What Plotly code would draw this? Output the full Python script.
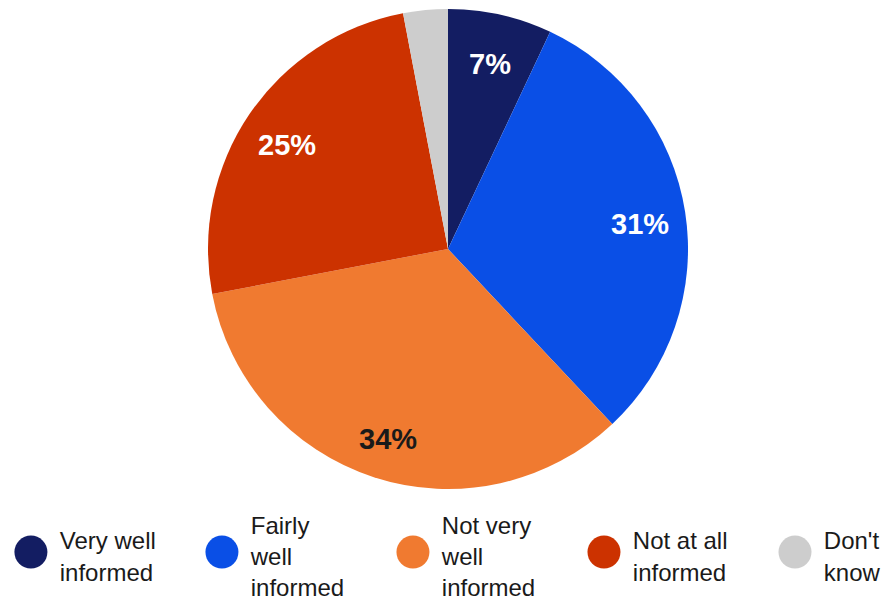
import math
import plotly.graph_objects as go

categories = ["Very well informed", "Fairly well informed", "Not very well informed",
              "Not at all informed", "Don't know"]
legend_labels = ["Very well<br>informed", "Fairly<br>well<br>informed", "Not very<br>well<br>informed",
                 "Not at all<br>informed", "Don't<br>know"]
values = [7, 31, 34, 25, 3]
slice_text = ["7%", "31%", "34%", "25%", ""]
colors = ["#131d62", "#0a4fe6", "#f07a30", "#cc3200", "#cdcdcd"]
text_colors = ["white", "white", "#1a1a1a", "white", "white"]

W, H = 889, 599
# figure pixels (the page adds an 8px offset on screen)
cx, cy, R = 440, 241, 240
label_r = 0.81

pie_dom_x = [(cx - R) / W, (cx + R) / W]
pie_dom_y = [max(0, (H - cy - R) / H), min(1, (H - cy + R) / H)]

fig = go.Figure()
fig.add_trace(go.Pie(
    labels=categories, values=values, textinfo="none",
    sort=False, direction="clockwise", rotation=0,
    marker=dict(colors=colors, line=dict(width=0)),
    domain=dict(x=pie_dom_x, y=pie_dom_y),
    showlegend=False, hoverinfo="label+percent",
))

# slice labels placed at each slice's mid-angle on an overlay axis spanning the pie
total = sum(values)
cum = 0
annotations = []
for v, t, c in zip(values, slice_text, text_colors):
    mid = (cum + v / 2) / total * 2 * math.pi
    cum += v
    if not t:
        continue
    annotations.append(dict(
        x=label_r * math.sin(mid), y=label_r * math.cos(mid), xref="x2", yref="y2",
        text=t, showarrow=False, yshift=-5,
        font=dict(family="Liberation Sans", size=29, color=c, weight="bold"),
    ))

# legend row: markers on one axis, text on a slightly offset one
fig.add_trace(go.Scatter(
    x=legend_labels, y=[0] * len(legend_labels), mode="markers",
    marker=dict(size=33, color=colors),
    xaxis="x", yaxis="y", showlegend=False, hoverinfo="skip",
))
fig.add_trace(go.Scatter(
    x=legend_labels, y=[0] * len(legend_labels), mode="text",
    text=legend_labels, textposition="middle right", cliponaxis=False,
    textfont=dict(family="Liberation Sans", size=24, color="#1a1a1a"),
    xaxis="x3", yaxis="y3", showlegend=False, hoverinfo="skip",
))

fig.update_layout(
    width=W, height=H, paper_bgcolor="white", plot_bgcolor="rgba(0,0,0,0)",
    margin=dict(l=0, r=0, t=0, b=0, autoexpand=False),
    xaxis=dict(domain=[0, 1], range=[-0.12, 4.534], visible=False, type="category"),
    yaxis=dict(domain=[0, 0.2], range=[-0.55, 0.65], visible=False),
    xaxis3=dict(domain=[0, 1], range=[-0.271, 4.383], visible=False, type="category", anchor="y3"),
    yaxis3=dict(domain=[0, 0.2], range=[-0.48, 0.72], visible=False, anchor="x3"),
    xaxis2=dict(domain=pie_dom_x, range=[-1, 1], visible=False, anchor="y2"),
    yaxis2=dict(domain=pie_dom_y, range=[-1, 1], visible=False, anchor="x2"),
    annotations=annotations,
)

fig.write_html("out.html")
